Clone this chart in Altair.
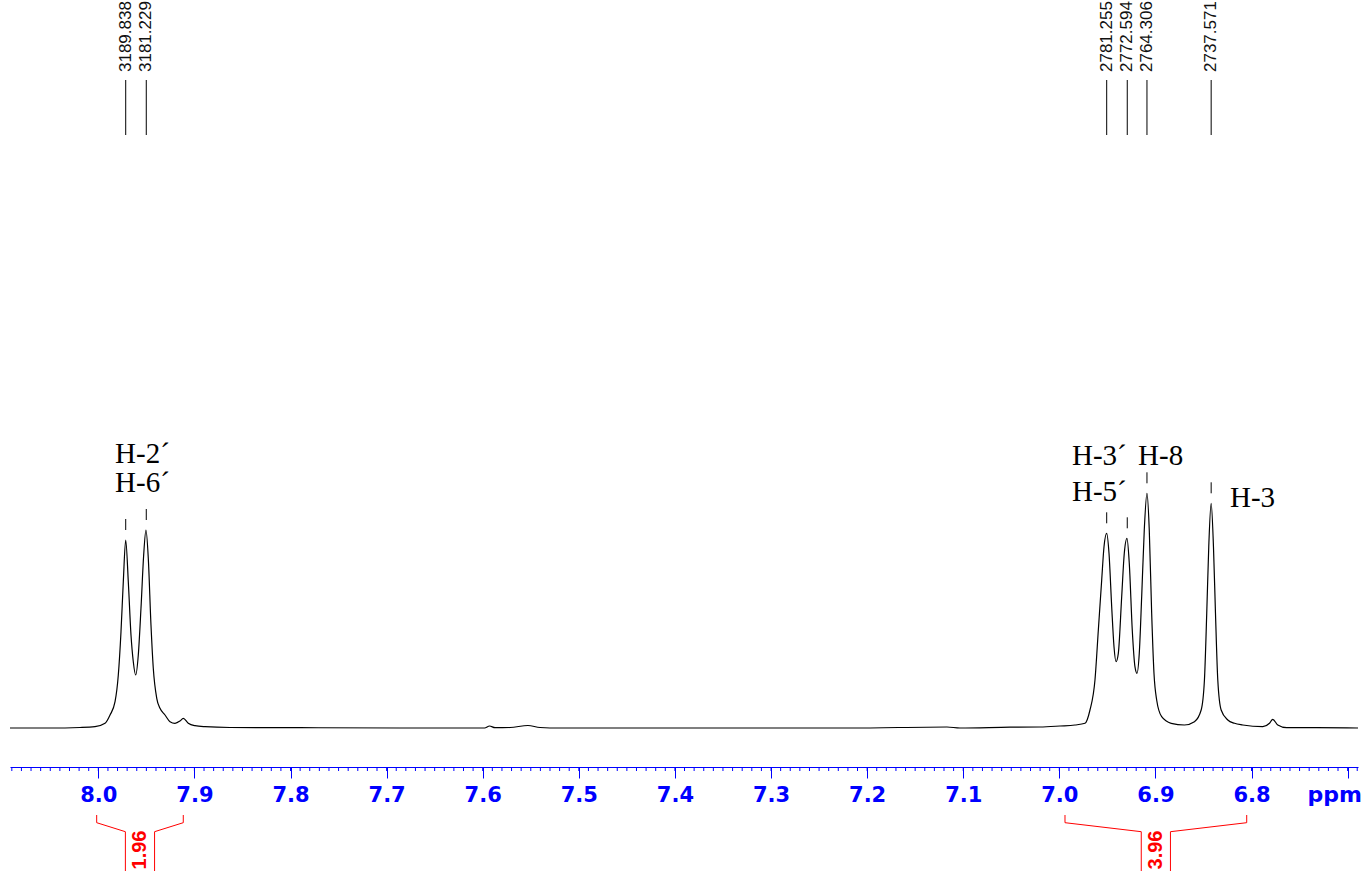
import altair as alt
import pandas as pd

# ---------------- data ----------------
spec_ppm = [8.0919, 8.0503, 8.0191, 8.0035, 7.9930, 7.9878, 7.9826, 7.9792, 7.9764, 7.9740,
            7.9715, 7.9688, 7.9660, 7.9636, 7.9611, 7.9584, 7.9556, 7.9528, 7.9504, 7.9480,
            7.9452, 7.9428, 7.9392, 7.9358, 7.9306, 7.9254, 7.9202, 7.9150, 7.9116, 7.9064,
            7.8994, 7.8890, 7.8630, 7.7901, 7.6861, 7.6132, 7.5980, 7.5929, 7.5872, 7.5716,
            7.5529, 7.5404, 7.5196, 7.3739, 7.2178, 7.1169, 7.1034, 7.0513, 7.0201, 6.9993,
            6.9837, 6.9733, 6.9681, 6.9629, 6.9594, 6.9559, 6.9535, 6.9507, 6.9483, 6.9455,
            6.9431, 6.9410, 6.9386, 6.9351, 6.9324, 6.9296, 6.9272, 6.9241, 6.9213, 6.9192,
            6.9168, 6.9143, 6.9116, 6.9088, 6.9064, 6.9039, 6.9015, 6.8987, 6.8935, 6.8836,
            6.8698, 6.8594, 6.8524, 6.8490, 6.8466, 6.8445, 6.8420, 6.8396, 6.8375, 6.8351,
            6.8316, 6.8247, 6.8177, 6.8091, 6.7883, 6.7813, 6.7779, 6.7727, 6.7634, 6.7322,
            6.6892]
spec_int = [0, 0, 0.5, 1.3, 4.7, 13, 26.3, 53, 96.3, 146.3,
            188, 146.3, 93, 66.3, 53, 73, 119.7, 173, 198, 169.7,
            103, 59.7, 29.7, 19.7, 13, 6.3, 4.7, 7, 9.7, 4.7,
            2.3, 1.3, 0.5, 0.3, 0, 0, 0, 2, 0.3, 0.5,
            2.5, 0.5, 0, 0, 0, 1, 0, 0.8, 1, 2,
            3, 4.7, 18, 48, 98, 148, 181.3, 194.7, 174.7, 121.3,
            81.3, 66.3, 74.7, 131.3, 174.7, 189.7, 164.7, 98, 61.3, 54.7,
            74.7, 131.3, 198, 234.7, 198, 114.7, 54.7, 28, 11.3, 4.7,
            3, 6.3, 18, 48, 114.7, 181.3, 224.7, 181.3, 114.7, 48,
            18, 8, 4.7, 3, 1.3, 4.7, 8.7, 3, 0.3, 0.3,
            0]

peak_ppm = [7.9715, 7.9501, 6.9507, 6.9293, 6.9088, 6.8420]
peak_int = [188, 198, 194.7, 189.7, 234.7, 224.7]
peak_hz = ["3189.838", "3181.229", "2781.255", "2772.594", "2764.306", "2737.571"]

assign_text = ["H-2\u00b4", "H-6\u00b4", "H-3\u00b4", "H-5\u00b4", "H-8", "H-3"]
assign_ppm = [7.9826, 7.9826, 6.9868, 6.9868, 6.9181, 6.8224]
assign_int = [265, 236, 263, 227, 263, 221]

integral_start = [8.0017, 6.9941]
integral_end = [7.9116, 6.8050]
integral_value = ["1.96", "3.96"]

major_ticks = [8.0, 7.9, 7.8, 7.7, 7.6, 7.5, 7.4, 7.3, 7.2, 7.1, 7.0, 6.9, 6.8, 6.7]
minor_ticks = [round(8.09 - 0.01 * i, 2) for i in range(141)]

x_domain = [6.6892, 8.0919]
y_domain = [-39, 728]

# ---------------- layout / style ----------------
W, H = 1348, 767
BLUE = "#0000ff"
RED = "#ff0000"
AXFONT = "DejaVu Sans"
NARROW = "Liberation Sans Narrow, Liberation Sans, Arial"

xscale = alt.Scale(domain=x_domain, reverse=True, nice=False, zero=False)
yscale = alt.Scale(domain=y_domain, nice=False, zero=False)
xaxis = alt.Axis(values=major_ticks, tickSize=11, tickColor=BLUE, tickWidth=1,
                 domainColor=BLUE, domainWidth=1, grid=False,
                 labelColor=BLUE, labelFont=AXFONT, labelFontSize=21, labelFontWeight="bold",
                 labelPadding=6, labelFlush=False, labelOverlap=False,
                 labelExpr="datum.value < 6.75 ? '' : format(datum.value, '.1f')",
                 title="ppm", titleX=1297, titleY=17, titleAlign="left", titleBaseline="top",
                 titleAngle=0, titleColor=BLUE, titleFont=AXFONT, titleFontSize=22,
                 titleFontWeight="bold")


def X(field):
    return alt.X(f"{field}:Q", scale=xscale, axis=xaxis)


def Y(field):
    return alt.Y(f"{field}:Q", scale=yscale, axis=None)


spec_df = pd.DataFrame({"ppm": spec_ppm, "int": spec_int, "i": list(range(len(spec_ppm)))})
peak_df = pd.DataFrame({"ppm": peak_ppm, "int": peak_int, "hz": peak_hz})
assign_df = pd.DataFrame({"ppm": assign_ppm, "int": assign_int, "txt": assign_text})
integ_df = pd.DataFrame({"ppm": integral_start, "ppm_end": integral_end, "val": integral_value})
integ_df["ppm_mid"] = (integ_df["ppm"] + integ_df["ppm_end"]) / 2
minor_df = pd.DataFrame({"ppm": minor_ticks})

spectrum = alt.Chart(spec_df).mark_line(color="black", strokeWidth=1.2, interpolate="monotone").encode(
    x=X("ppm"), y=Y("int"), order=alt.Order("i:Q"))

markers = alt.Chart(peak_df).mark_rule(color="black", strokeWidth=1, yOffset=-10, y2Offset=-21).encode(
    x=X("ppm"), y=Y("int"), y2=alt.Y2("int:Q"))

top_lines = alt.Chart(peak_df).mark_rule(color="black", strokeWidth=1).encode(
    x=X("ppm"), y=alt.value(80), y2=alt.value(135))

top_text = alt.Chart(peak_df).mark_text(angle=270, align="left", baseline="middle",
                                        font=NARROW, fontSize=17, color="#111").encode(
    x=X("ppm"), y=alt.value(72), text="hz:N")

assign = alt.Chart(assign_df).mark_text(align="left", baseline="alphabetic",
                                        font="Liberation Serif", fontSize=29, color="black").encode(
    x=X("ppm"), y=Y("int"), text="txt:N")

minor = alt.Chart(minor_df).mark_rule(color=BLUE, strokeWidth=1).encode(
    x=X("ppm"), y=alt.value(H), y2=alt.value(H + 4))

G = 14.6
br_a = alt.Chart(integ_df).mark_rule(color=RED, strokeWidth=1).encode(
    x=X("ppm"), y=alt.value(815), y2=alt.value(822.7))
br_b = alt.Chart(integ_df).mark_rule(color=RED, strokeWidth=1).encode(
    x=X("ppm_end"), y=alt.value(815), y2=alt.value(822.7))
br_c = alt.Chart(integ_df).mark_rule(color=RED, strokeWidth=1, x2Offset=-G).encode(
    x=X("ppm"), x2=alt.X2("ppm_mid:Q"), y=alt.value(822.7), y2=alt.value(831.7))
br_d = alt.Chart(integ_df).mark_rule(color=RED, strokeWidth=1, x2Offset=G).encode(
    x=X("ppm_end"), x2=alt.X2("ppm_mid:Q"), y=alt.value(822.7), y2=alt.value(831.7))
br_e = alt.Chart(integ_df).mark_rule(color=RED, strokeWidth=1, xOffset=-G).encode(
    x=X("ppm_mid"), y=alt.value(831.7), y2=alt.value(880))
br_f = alt.Chart(integ_df).mark_rule(color=RED, strokeWidth=1, xOffset=G).encode(
    x=X("ppm_mid"), y=alt.value(831.7), y2=alt.value(880))
br_t = alt.Chart(integ_df).mark_text(angle=270, align="center", baseline="middle",
                                     font=NARROW, fontSize=20, fontWeight="bold", color=RED).encode(
    x=X("ppm_mid"), y=alt.value(850), text="val:N")

chart = alt.layer(spectrum, markers, top_lines, top_text, assign, minor,
                  br_a, br_b, br_c, br_d, br_e, br_f, br_t).properties(
    width=W, height=H, autosize="none",
    padding={"left": 10, "top": 0, "right": 5, "bottom": 104},
).configure_view(strokeWidth=0)

chart.save("out.html", embed_options={"renderer": "svg", "actions": False})
